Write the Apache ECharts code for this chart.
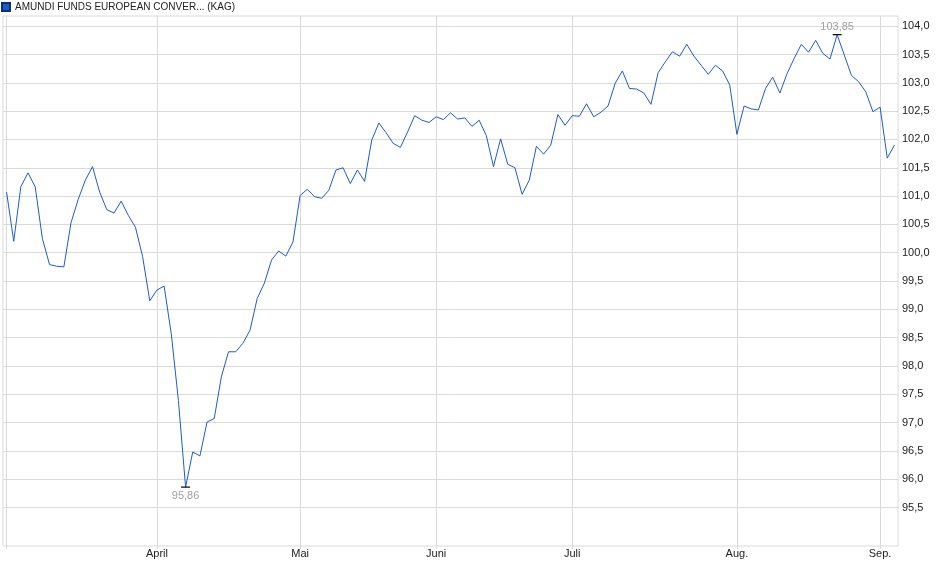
<!DOCTYPE html>
<html>
<head>
<meta charset="utf-8">
<script src="https://cdn.jsdelivr.net/npm/echarts@6/dist/echarts.min.js"></script>
<style>
  html, body { margin: 0; padding: 0; background: #fff; }
  #chart { width: 940px; height: 579px; }
</style>
</head>
<body>
<div id="chart"></div>
<script>
// Kursdaten (Handelstage März - Sep.)
var seriesName = 'AMUNDI FUNDS EUROPEAN CONVER... (KAG)';
var prices = [
  101.07, 100.20, 101.17, 101.41, 101.16, 100.25, 99.79, 99.76, 99.75, 100.53,
  100.94, 101.28, 101.52, 101.07, 100.76, 100.70, 100.91, 100.66, 100.45, 99.93,
  99.15, 99.34, 99.41, 98.57, 97.39, 95.86, 96.48, 96.41, 97.01, 97.07,
  97.81, 98.25, 98.25, 98.40, 98.63, 99.19, 99.46, 99.87, 100.03, 99.94,
  100.19, 101.01, 101.12, 100.99, 100.96, 101.10, 101.46, 101.50, 101.22, 101.46,
  101.26, 101.99, 102.29, 102.12, 101.93, 101.86, 102.13, 102.42, 102.34, 102.30,
  102.40, 102.35, 102.47, 102.36, 102.38, 102.23, 102.34, 102.07, 101.52, 102.01,
  101.56, 101.50, 101.03, 101.28, 101.88, 101.74, 101.90, 102.44, 102.25, 102.42,
  102.41, 102.63, 102.40, 102.48, 102.59, 102.99, 103.21, 102.90, 102.89, 102.82,
  102.62, 103.18, 103.37, 103.55, 103.47, 103.68, 103.47, 103.31, 103.15, 103.31,
  103.21, 102.96, 102.09, 102.59, 102.54, 102.52, 102.90, 103.10, 102.82, 103.16,
  103.43, 103.68, 103.54, 103.75, 103.52, 103.42, 103.85, 103.49, 103.13, 103.02,
  102.84, 102.49, 102.57, 101.67, 101.90
];
var monthIdx = [21, 41, 60, 79, 102, 122];
var monthNames = ['April', 'Mai', 'Juni', 'Juli', 'Aug.', 'Sep.'];
var yTicks = [95.5, 96, 96.5, 97, 97.5, 98, 98.5, 99, 99.5, 100, 100.5, 101, 101.5, 102, 102.5, 103, 103.5, 104];

var fmt = function (v) { return v.toFixed(1).replace('.', ','); };
var gridColor = '#dadada';
var font = 'Liberation Sans, Arial, sans-serif';

var myChart = echarts.init(document.getElementById('chart'));

var data = prices.map(function (v, i) { return [i, v]; });

var option = {
  animation: false,
  legend: {
    left: 0,
    top: 0,
    padding: [2, 0, 0, 1],
    icon: 'rect',
    itemWidth: 8,
    itemHeight: 8,
    textStyle: { fontSize: 10, color: '#222', fontFamily: font },
    data: [seriesName]
  },
  grid: {
    left: 3,
    right: 42,
    top: 16,
    bottom: 33,
    show: true,
    borderColor: gridColor,
    borderWidth: 1
  },
  xAxis: {
    type: 'value',
    min: -0.5,
    max: prices.length - 0.5,
    axisLine: { show: false },
    axisTick: {
      show: true,
      length: 3,
      lineStyle: { color: gridColor },
      customValues: [0].concat(monthIdx)
    },
    axisLabel: {
      customValues: monthIdx,
      margin: 2,
      fontSize: 11,
      color: '#222',
      fontFamily: font,
      formatter: function (v) {
        var k = monthIdx.indexOf(Math.round(v));
        return k >= 0 ? monthNames[k] : '';
      }
    },
    splitLine: { show: true, lineStyle: { color: gridColor, width: 1 } }
  },
  yAxis: {
    type: 'value',
    position: 'right',
    min: 94.82,
    max: 104.18,
    axisLine: { show: false },
    axisTick: {
      show: true,
      length: 3,
      lineStyle: { color: gridColor },
      customValues: yTicks
    },
    axisLabel: {
      customValues: yTicks,
      margin: 4,
      fontSize: 11,
      color: '#222',
      fontFamily: font,
      formatter: fmt
    },
    splitLine: { show: true, lineStyle: { color: gridColor, width: 1 } }
  },
  series: [
    {
      name: seriesName,
      type: 'line',
      data: data,
      showSymbol: false,
      symbol: 'none',
      color: '#1c5cc6',
      itemStyle: { color: '#1c5cc6', borderColor: '#0d2f7a', borderWidth: 1 },
      lineStyle: { color: '#1c5cc6', width: 1 },
      markPoint: {
        symbol: 'rect',
        symbolSize: [9, 1.2],
        itemStyle: { color: '#000' },
        data: [
          {
            type: 'min',
            label: {
              position: 'bottom', distance: 3, color: '#a0a0a0', fontSize: 11, fontFamily: font,
              formatter: function (p) { return p.value.toFixed(2).replace('.', ','); }
            }
          },
          {
            type: 'max',
            label: {
              position: 'top', distance: 2, color: '#a0a0a0', fontSize: 11, fontFamily: font,
              formatter: function (p) { return p.value.toFixed(2).replace('.', ','); }
            }
          }
        ]
      }
    }
  ]
};

myChart.setOption(option);
</script>
</body>
</html>
